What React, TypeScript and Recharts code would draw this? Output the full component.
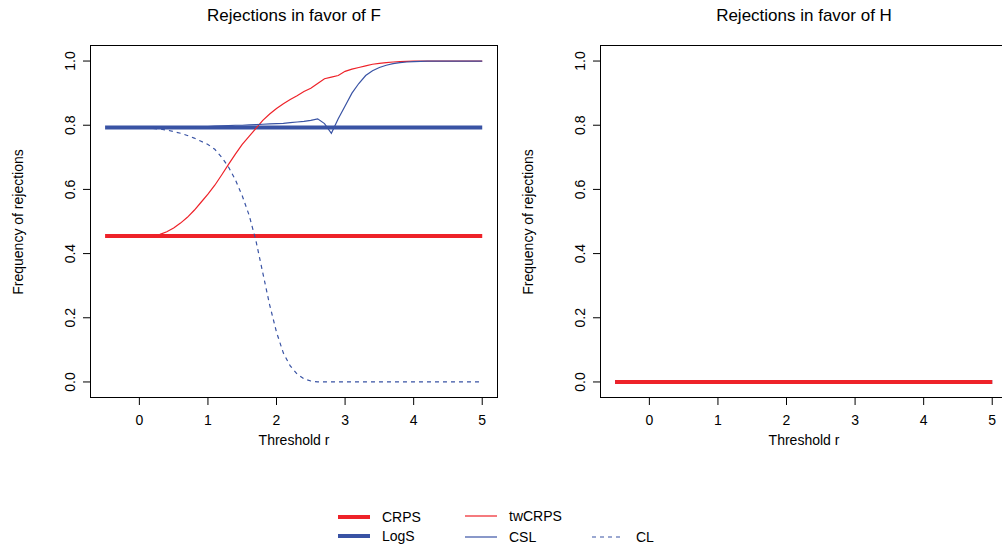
import React from 'react';
import { LineChart, Line, XAxis, YAxis } from 'recharts';

// threshold grid (-0.5 .. 5.0, step 0.1)
const thresholds = Array.from({ length: 56 }, (_, i) => Math.round((-0.5 + i * 0.1) * 10) / 10);

const crpsF = 0.455;
const logsF = 0.793;

// from r = 0.2 onwards
const twCRPS = [0.455, 0.46, 0.468, 0.48, 0.495, 0.513, 0.535, 0.56, 0.585, 0.613, 0.645, 0.678, 0.71, 0.74, 0.765, 0.79,
  0.815, 0.835, 0.852, 0.867, 0.88, 0.892, 0.905, 0.915, 0.93, 0.945, 0.95, 0.955, 0.968, 0.975, 0.98, 0.985, 0.99, 0.993,
  0.995, 0.997, 0.998, 0.999, 1, 1, 1, 1, 1, 1, 1, 1, 1, 1, 1];
const csl = [0.793, 0.793, 0.793, 0.794, 0.794, 0.795, 0.795, 0.796, 0.796, 0.797, 0.798, 0.799, 0.8, 0.8, 0.801, 0.802,
  0.803, 0.804, 0.805, 0.806, 0.808, 0.81, 0.812, 0.815, 0.82, 0.805, 0.775, 0.82, 0.86, 0.9, 0.93, 0.955, 0.97, 0.98,
  0.987, 0.992, 0.995, 0.997, 0.998, 0.999, 1, 1, 1, 1, 1, 1, 1, 1, 1];
const cl = [0.79, 0.788, 0.785, 0.78, 0.775, 0.768, 0.76, 0.75, 0.74, 0.725, 0.7, 0.67, 0.63, 0.58, 0.52, 0.44,
  0.34, 0.24, 0.155, 0.09, 0.05, 0.025, 0.01, 0.003, 0, 0, 0, 0, 0, 0, 0, 0, 0, 0, 0, 0, 0, 0, 0, 0, 0, 0, 0, 0, 0, 0, 0, 0, 0];

const xTicks = [0, 1, 2, 3, 4, 5];
const yTicks = [0, 0.2, 0.4, 0.6, 0.8, 1];

const RED = '#ee2229';
const BLUE = '#3953a4';
const FONT = 'Liberation Sans, Arial, sans-serif';

const dataF = thresholds.map((r, i) => ({
  r,
  crps: crpsF,
  logs: logsF,
  twcrps: i >= 7 ? twCRPS[i - 7] : null,
  csl: i >= 7 ? csl[i - 7] : null,
  cl: i >= 7 ? cl[i - 7] : null,
}));
const dataH = thresholds.map((r) => ({ r, crps: 0, logs: 0 }));

const YTick = (props: any) => {
  const { x, y, payload } = props;
  return (
    <text x={x - 6} y={y} transform={`rotate(-90 ${x - 6} ${y})`} textAnchor="middle" fontSize={14} fill="#000" fontFamily={FONT}>
      {payload.value.toFixed(1)}
    </text>
  );
};

const Panel = ({ left, title, data, withCurves }: any) => (
  <div style={{ position: 'absolute', left, top: 0, width: 510, height: 470 }}>
    <LineChart width={510} height={470} data={data} margin={{ top: 45, left: 30, right: 12, bottom: 0 }}>
      <XAxis dataKey="r" type="number" domain={[-0.72, 5.23]} ticks={xTicks} axisLine={false}
        tickSize={7} tickLine={{ stroke: '#000' }} tick={{ fontSize: 14, fill: '#000', fontFamily: FONT, dy: 8 }} height={72} />
      <YAxis type="number" domain={[-0.05, 1.05]} ticks={yTicks} axisLine={false} width={60}
        tickSize={7} tickLine={{ stroke: '#000' }} tick={<YTick />} />
      <Line dataKey="logs" stroke={BLUE} strokeWidth={4} dot={false} isAnimationActive={false} />
      <Line dataKey="crps" stroke={RED} strokeWidth={4} dot={false} isAnimationActive={false} />
      {withCurves && <Line dataKey="twcrps" stroke={RED} strokeWidth={1.2} dot={false} isAnimationActive={false} />}
      {withCurves && <Line dataKey="csl" stroke={BLUE} strokeWidth={1.2} dot={false} isAnimationActive={false} />}
      {withCurves && <Line dataKey="cl" stroke={BLUE} strokeWidth={1.2} strokeDasharray="4 4" dot={false} isAnimationActive={false} />}
    </LineChart>
    <div style={{ position: 'absolute', left: 90, top: 45, width: 408, height: 353, border: '1px solid #000', boxSizing: 'border-box', pointerEvents: 'none' }} />
    <div style={{ position: 'absolute', left: 90, width: 408, top: 6, textAlign: 'center', fontSize: 17, fontFamily: FONT }}>{title}</div>
    <div style={{ position: 'absolute', left: 90, width: 408, top: 432, textAlign: 'center', fontSize: 14, fontFamily: FONT }}>Threshold r</div>
    <div style={{ position: 'absolute', left: 18, top: 222, transform: 'translate(-50%, -50%) rotate(-90deg)', whiteSpace: 'nowrap', fontSize: 14, fontFamily: FONT }}>Frequency of rejections</div>
  </div>
);

const LegendItem = ({ x, y, color, width, dash, label }: any) => (
  <g>
    <line x1={x} x2={x + 32} y1={y} y2={y} stroke={color} strokeWidth={width} strokeDasharray={dash} />
    <text x={x + 44} y={y + 5} fontSize={14} fontFamily={FONT}>{label}</text>
  </g>
);

export default function App() {
  return (
    <div style={{ position: 'absolute', left: 0, top: 0, width: 1002, height: 552, overflow: 'hidden', background: '#fff' }}>
      <Panel left={0} title="Rejections in favor of F" data={dataF} withCurves />
      <Panel left={510} title="Rejections in favor of H" data={dataH} withCurves={false} />
      <svg style={{ position: 'absolute', left: 0, top: 490 }} width={1002} height={62}>
        <LegendItem x={338} y={27} color={RED} width={4} label="CRPS" />
        <LegendItem x={338} y={46} color={BLUE} width={4} label="LogS" />
        <LegendItem x={465} y={26} color={RED} width={1.2} label="twCRPS" />
        <LegendItem x={465} y={47} color={BLUE} width={1.2} label="CSL" />
        <LegendItem x={592} y={47} color={BLUE} width={1.2} dash="4 4" label="CL" />
      </svg>
    </div>
  );
}
